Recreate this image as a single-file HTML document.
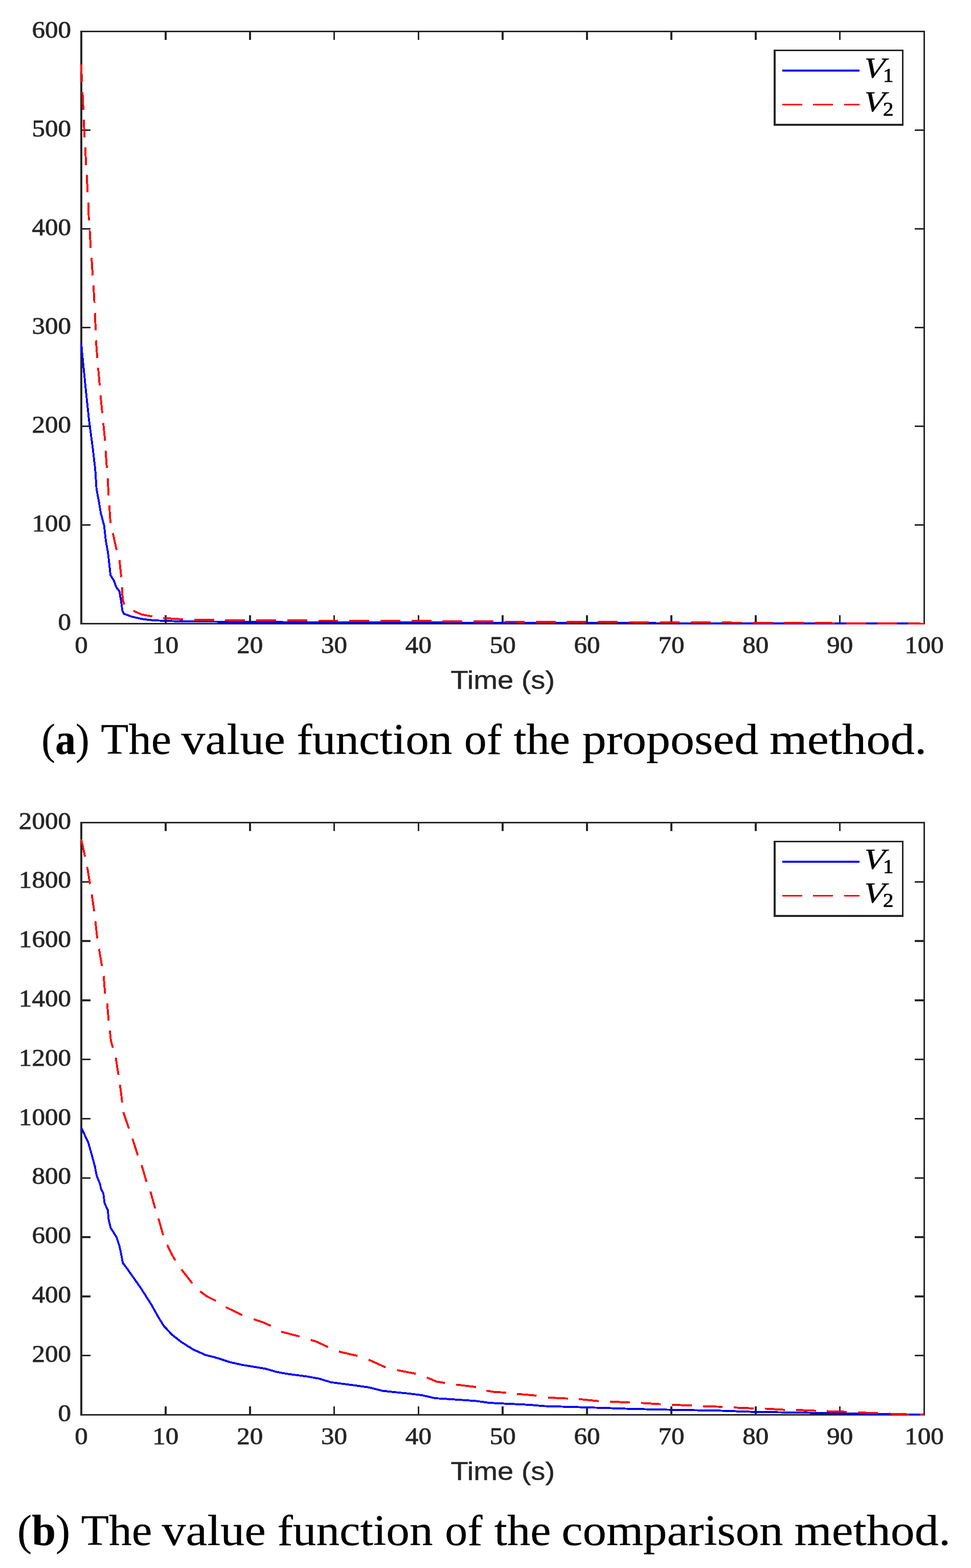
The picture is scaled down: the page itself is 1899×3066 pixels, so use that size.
<!DOCTYPE html>
<html lang="en">
<head>
<meta charset="utf-8">
<title>Value functions</title>
<style>
html,body{margin:0;padding:0;background:#fff;}
body{width:1899px;height:3066px;overflow:hidden;}
svg{display:block;}
text{white-space:pre;}
</style>
</head>
<body>
<svg width="1899" height="3066" viewBox="0 0 1899 3066">
<rect width="1899" height="3066" fill="#fff"/>
<g id="chart-a">
<g transform="scale(1.12,1)" fill="none" stroke="#262626" stroke-width="3.3" shape-rendering="crispEdges">
<path d="M289.15 1219.50V1203.00 M289.15 61.50V78.00 M436.34 1219.50V1203.00 M436.34 61.50V78.00 M583.53 1219.50V1203.00 M583.53 61.50V78.00 M730.71 1219.50V1203.00 M730.71 61.50V78.00 M877.90 1219.50V1203.00 M877.90 61.50V78.00 M1025.09 1219.50V1203.00 M1025.09 61.50V78.00 M1172.28 1219.50V1203.00 M1172.28 61.50V78.00 M1319.46 1219.50V1203.00 M1319.46 61.50V78.00 M1466.65 1219.50V1203.00 M1466.65 61.50V78.00 M141.96 1026.50H158.04 M1613.84 1026.50H1597.23 M141.96 833.50H158.04 M1613.84 833.50H1597.23 M141.96 640.50H158.04 M1613.84 640.50H1597.23 M141.96 447.50H158.04 M1613.84 447.50H1597.23 M141.96 254.50H158.04 M1613.84 254.50H1597.23"/>
<rect x="141.96" y="61.50" width="1471.87" height="1158.00"/>
</g>
<g fill="none" stroke-width="3.9" stroke-linejoin="round" shape-rendering="crispEdges">
<polyline stroke="#0000ff" points="159.00,672.20 161.50,700.00 167.50,759.50 173.80,819.00 181.70,878.60 186.30,918.30 188.70,956.00 193.30,980.00 197.10,1003.10 203.70,1027.90 207.00,1057.70 211.20,1080.90 213.70,1102.40 216.10,1124.70 222.80,1135.40 227.70,1148.70 233.50,1156.10 236.80,1175.10 239.30,1193.30 241.80,1199.90 257.50,1205.70 279.00,1210.60 298.80,1212.80 323.60,1214.10 348.40,1214.80 400.00,1215.30 500.00,1216.30 860.00,1217.40 1340.00,1218.60 1808.00,1219.50"/>
<path stroke="#ff0000" d="M159.00 125.80 L160.00 160.50 M161.30 180.40 L163.00 214.70 M163.70 234.10 L165.50 268.70 M166.70 288.10 L168.30 322.60 M169.60 342.00 L171.40 376.40 M172.60 396.00 L173.80 430.80 M175.40 450.00 L177.40 484.90 M179.00 503.80 L181.20 538.50 M182.70 558.10 L184.70 591.90 M185.70 611.90 L187.10 646.00 M187.70 665.50 L190.30 700.00 M191.90 718.80 L195.00 753.60 M196.60 773.00 L200.00 807.70 M202.00 827.00 L205.40 861.70 M206.50 881.00 L208.90 914.70 M210.50 935.10 L212.50 968.80 M213.70 988.30 L216.10 1022.70 M220.80 1042.50 L228.00 1075.60 M233.70 1095.20 L237.10 1128.50 M238.50 1148.20 L240.10 1173.40 L243.10 1182.00 M260.80 1194.40 L277.30 1201.60 L297.70 1205.40 M319.00 1208.50 L357.90 1211.00 M379.72 1211.79 L418.62 1212.41 M440.44 1212.75 L479.34 1212.99 M501.16 1213.06 L540.06 1213.19 M561.88 1213.26 L600.78 1213.38 M622.60 1213.45 L661.50 1213.58 M683.32 1213.65 L722.22 1213.77 M744.04 1213.84 L782.94 1213.97 M804.76 1214.04 L843.66 1214.42 M865.48 1214.77 L904.38 1215.11 M926.20 1215.20 L965.10 1215.37 M986.92 1215.46 L1025.82 1215.63 M1047.64 1215.73 L1086.54 1215.90 M1108.36 1215.99 L1147.26 1216.16 M1169.08 1216.26 L1207.98 1216.43 M1229.80 1216.52 L1268.70 1216.69 M1290.52 1216.78 L1329.42 1216.95 M1351.24 1217.06 L1390.14 1217.25 M1411.96 1217.36 L1450.86 1217.55 M1472.68 1217.66 L1511.58 1217.86 M1533.40 1217.97 L1572.30 1218.16 M1594.12 1218.27 L1633.02 1218.49 M1654.84 1218.62 L1693.74 1218.84 M1715.56 1218.97 L1754.46 1219.19 M1776.28 1219.32 L1808.00 1219.50"/>
</g>
<g transform="scale(1.12,1)" stroke="#262626" stroke-width="3.3" shape-rendering="crispEdges">
<rect x="1352.68" y="98.50" width="223.66" height="145.50" fill="#fff"/>
</g>
<g fill="none" stroke-width="3.9" shape-rendering="crispEdges">
<path stroke="#0000ff" d="M1529.8 138.00H1681"/>
<path stroke="#ff0000" stroke-dasharray="38.9 21.7" d="M1529.8 204.50H1681"/>
</g>
<g font-family="'Liberation Serif', serif" font-size="45.6" fill="#262626" stroke="#262626" stroke-width="0.8">
<text transform="translate(159.00,1276.70) scale(1.12,1)" text-anchor="middle">0</text>
<text transform="translate(323.85,1276.70) scale(1.12,1)" text-anchor="middle">10</text>
<text transform="translate(488.70,1276.70) scale(1.12,1)" text-anchor="middle">20</text>
<text transform="translate(653.55,1276.70) scale(1.12,1)" text-anchor="middle">30</text>
<text transform="translate(818.40,1276.70) scale(1.12,1)" text-anchor="middle">40</text>
<text transform="translate(983.25,1276.70) scale(1.12,1)" text-anchor="middle">50</text>
<text transform="translate(1148.10,1276.70) scale(1.12,1)" text-anchor="middle">60</text>
<text transform="translate(1312.95,1276.70) scale(1.12,1)" text-anchor="middle">70</text>
<text transform="translate(1477.80,1276.70) scale(1.12,1)" text-anchor="middle">80</text>
<text transform="translate(1642.65,1276.70) scale(1.12,1)" text-anchor="middle">90</text>
<text transform="translate(1807.50,1276.70) scale(1.12,1)" text-anchor="middle">100</text>
<text transform="translate(139.00,1231.60) scale(1.12,1)" text-anchor="end">0</text>
<text transform="translate(139.00,1038.60) scale(1.12,1)" text-anchor="end">100</text>
<text transform="translate(139.00,845.60) scale(1.12,1)" text-anchor="end">200</text>
<text transform="translate(139.00,652.60) scale(1.12,1)" text-anchor="end">300</text>
<text transform="translate(139.00,459.60) scale(1.12,1)" text-anchor="end">400</text>
<text transform="translate(139.00,266.60) scale(1.12,1)" text-anchor="end">500</text>
<text transform="translate(139.00,73.60) scale(1.12,1)" text-anchor="end">600</text>
</g>
<text transform="translate(983.30,1346.80) scale(1.122,1)" text-anchor="middle" font-family="'Liberation Sans', sans-serif" font-size="50" fill="#262626" stroke="#262626" stroke-width="0.5">Time (s)</text>
<g font-family="'Liberation Serif', serif" fill="#000" stroke="#000">
<text transform="translate(1688.10,152.20) skewX(-3.8) scale(1.19,1)" font-style="italic" font-size="57" stroke-width="0.45">V</text>
<text transform="translate(1727.00,160.00) scale(1.08,1)" font-size="37.8" stroke-width="0.9">1</text>
<text transform="translate(1688.10,218.40) skewX(-3.8) scale(1.19,1)" font-style="italic" font-size="57" stroke-width="0.45">V</text>
<text transform="translate(1727.00,226.20) scale(1.08,1)" font-size="37.8" stroke-width="0.9">2</text>
</g>
</g>
<g id="chart-b">
<g transform="scale(1.12,1)" fill="none" stroke="#262626" stroke-width="3.3" shape-rendering="crispEdges">
<path d="M289.15 2766.50V2750.00 M289.15 1608.50V1625.00 M436.34 2766.50V2750.00 M436.34 1608.50V1625.00 M583.53 2766.50V2750.00 M583.53 1608.50V1625.00 M730.71 2766.50V2750.00 M730.71 1608.50V1625.00 M877.90 2766.50V2750.00 M877.90 1608.50V1625.00 M1025.09 2766.50V2750.00 M1025.09 1608.50V1625.00 M1172.28 2766.50V2750.00 M1172.28 1608.50V1625.00 M1319.46 2766.50V2750.00 M1319.46 1608.50V1625.00 M1466.65 2766.50V2750.00 M1466.65 1608.50V1625.00 M141.96 2650.70H158.04 M1613.84 2650.70H1597.23 M141.96 2534.90H158.04 M1613.84 2534.90H1597.23 M141.96 2419.10H158.04 M1613.84 2419.10H1597.23 M141.96 2303.30H158.04 M1613.84 2303.30H1597.23 M141.96 2187.50H158.04 M1613.84 2187.50H1597.23 M141.96 2071.70H158.04 M1613.84 2071.70H1597.23 M141.96 1955.90H158.04 M1613.84 1955.90H1597.23 M141.96 1840.10H158.04 M1613.84 1840.10H1597.23 M141.96 1724.30H158.04 M1613.84 1724.30H1597.23"/>
<rect x="141.96" y="1608.50" width="1471.87" height="1158.00"/>
</g>
<g fill="none" stroke-width="3.9" stroke-linejoin="round" shape-rendering="crispEdges">
<polyline stroke="#0000ff" points="159.00,2204.80 172.80,2234.60 179.80,2259.40 185.70,2281.20 189.10,2299.00 195.60,2314.90 197.60,2324.80 202.00,2332.80 204.60,2352.60 210.90,2366.50 212.50,2384.40 216.50,2401.20 227.40,2418.10 233.30,2435.00 237.30,2453.80 240.10,2469.10 249.80,2482.30 275.00,2518.00 296.10,2551.10 309.40,2574.90 319.90,2592.10 335.80,2609.30 354.30,2623.90 378.10,2638.90 402.00,2649.50 425.80,2655.60 449.60,2663.50 473.40,2668.80 494.60,2672.30 518.40,2676.20 542.20,2682.90 563.30,2686.60 600.40,2691.50 623.80,2695.70 647.60,2702.90 671.40,2706.00 697.90,2709.50 721.70,2712.90 748.10,2719.50 772.00,2722.20 798.40,2724.80 824.90,2728.00 851.30,2734.10 877.80,2735.70 904.20,2737.50 930.70,2739.40 957.10,2743.10 983.60,2744.40 1035.60,2746.90 1063.30,2749.40 1118.90,2751.10 1174.40,2752.80 1230.00,2754.70 1285.60,2756.10 1341.10,2757.20 1400.00,2758.10 1469.40,2760.60 1566.70,2762.20 1650.00,2763.90 1733.30,2765.30 1808.00,2766.40"/>
<path stroke="#ff0000" d="M158.90 1641.40 L166.30 1675.20 M170.40 1694.80 L176.20 1728.50 M179.40 1748.60 L184.30 1781.70 M186.50 1801.20 L190.30 1835.30 M193.70 1855.50 L199.40 1888.80 M202.70 1908.50 L205.40 1942.70 M209.50 1961.90 L212.50 1995.60 M214.90 2015.10 L216.90 2034.90 L220.80 2048.80 M226.40 2068.30 L231.70 2101.80 M234.50 2121.20 L236.70 2136.10 L238.90 2155.60 M241.30 2174.80 L247.00 2192.00 L252.20 2206.80 M259.10 2226.60 L269.60 2259.40 M277.00 2278.20 L286.50 2311.00 M294.20 2329.80 L303.40 2362.90 M309.90 2382.40 L319.00 2415.10 M327.00 2434.00 L334.00 2449.00 L342.80 2464.50 M354.90 2482.30 L376.00 2509.30 M391.40 2525.20 L404.60 2534.70 L422.30 2543.70 M441.60 2555.90 L473.90 2571.50 M495.90 2579.40 L515.70 2586.00 L529.50 2592.60 M550.10 2604.00 L585.80 2613.30 M608.00 2620.00 L621.20 2624.30 L641.50 2634.10 M662.70 2642.80 L699.20 2651.30 M720.90 2658.70 L732.30 2663.70 L754.20 2673.80 M776.70 2679.00 L813.20 2686.20 M834.90 2693.60 L854.00 2701.50 L870.40 2704.20 M892.30 2707.40 L930.70 2712.10 M951.30 2719.30 L967.70 2721.90 L989.60 2723.00 M1011.40 2725.60 L1049.40 2728.90 M1072.20 2732.80 L1110.60 2734.70 M1132.20 2735.80 L1170.80 2739.70 M1193.00 2740.60 L1231.70 2742.50 M1253.60 2743.30 L1291.70 2745.60 M1314.20 2746.90 L1352.80 2748.30 M1375.00 2749.70 L1413.30 2750.80 M1435.30 2752.20 L1473.60 2753.90 M1496.10 2754.40 L1534.70 2756.70 M1557.20 2756.90 L1595.80 2758.60 M1617.20 2759.40 L1655.60 2760.60 M1678.30 2761.90 L1716.70 2763.30 M1739.40 2764.40 L1777.80 2765.60 M1799.20 2766.40 L1808.00 2766.50"/>
</g>
<g transform="scale(1.12,1)" stroke="#262626" stroke-width="3.3" shape-rendering="crispEdges">
<rect x="1352.68" y="1645.50" width="223.66" height="145.50" fill="#fff"/>
</g>
<g fill="none" stroke-width="3.9" shape-rendering="crispEdges">
<path stroke="#0000ff" d="M1529.8 1685.00H1681"/>
<path stroke="#ff0000" stroke-dasharray="38.9 21.7" d="M1529.8 1751.50H1681"/>
</g>
<g font-family="'Liberation Serif', serif" font-size="45.6" fill="#262626" stroke="#262626" stroke-width="0.8">
<text transform="translate(159.00,2823.70) scale(1.12,1)" text-anchor="middle">0</text>
<text transform="translate(323.85,2823.70) scale(1.12,1)" text-anchor="middle">10</text>
<text transform="translate(488.70,2823.70) scale(1.12,1)" text-anchor="middle">20</text>
<text transform="translate(653.55,2823.70) scale(1.12,1)" text-anchor="middle">30</text>
<text transform="translate(818.40,2823.70) scale(1.12,1)" text-anchor="middle">40</text>
<text transform="translate(983.25,2823.70) scale(1.12,1)" text-anchor="middle">50</text>
<text transform="translate(1148.10,2823.70) scale(1.12,1)" text-anchor="middle">60</text>
<text transform="translate(1312.95,2823.70) scale(1.12,1)" text-anchor="middle">70</text>
<text transform="translate(1477.80,2823.70) scale(1.12,1)" text-anchor="middle">80</text>
<text transform="translate(1642.65,2823.70) scale(1.12,1)" text-anchor="middle">90</text>
<text transform="translate(1807.50,2823.70) scale(1.12,1)" text-anchor="middle">100</text>
<text transform="translate(139.00,2778.60) scale(1.12,1)" text-anchor="end">0</text>
<text transform="translate(139.00,2662.80) scale(1.12,1)" text-anchor="end">200</text>
<text transform="translate(139.00,2547.00) scale(1.12,1)" text-anchor="end">400</text>
<text transform="translate(139.00,2431.20) scale(1.12,1)" text-anchor="end">600</text>
<text transform="translate(139.00,2315.40) scale(1.12,1)" text-anchor="end">800</text>
<text transform="translate(139.00,2199.60) scale(1.12,1)" text-anchor="end">1000</text>
<text transform="translate(139.00,2083.80) scale(1.12,1)" text-anchor="end">1200</text>
<text transform="translate(139.00,1968.00) scale(1.12,1)" text-anchor="end">1400</text>
<text transform="translate(139.00,1852.20) scale(1.12,1)" text-anchor="end">1600</text>
<text transform="translate(139.00,1736.40) scale(1.12,1)" text-anchor="end">1800</text>
<text transform="translate(139.00,1620.60) scale(1.12,1)" text-anchor="end">2000</text>
</g>
<text transform="translate(983.30,2893.80) scale(1.122,1)" text-anchor="middle" font-family="'Liberation Sans', sans-serif" font-size="50" fill="#262626" stroke="#262626" stroke-width="0.5">Time (s)</text>
<g font-family="'Liberation Serif', serif" fill="#000" stroke="#000">
<text transform="translate(1688.10,1699.20) skewX(-3.8) scale(1.19,1)" font-style="italic" font-size="57" stroke-width="0.45">V</text>
<text transform="translate(1727.00,1707.00) scale(1.08,1)" font-size="37.8" stroke-width="0.9">1</text>
<text transform="translate(1688.10,1765.40) skewX(-3.8) scale(1.19,1)" font-style="italic" font-size="57" stroke-width="0.45">V</text>
<text transform="translate(1727.00,1773.20) scale(1.08,1)" font-size="37.8" stroke-width="0.9">2</text>
</g>
</g>
<text id="cap-a" y="1474.2" font-family="'Liberation Serif', serif" font-size="84" fill="#000" stroke="#000" stroke-width="0.3"><tspan x="81.19" textLength="93.61" lengthAdjust="spacingAndGlyphs">(<tspan font-weight="bold">a</tspan>)</tspan> <tspan x="197.31" textLength="137.83" lengthAdjust="spacingAndGlyphs">The</tspan> <tspan x="354.50" textLength="203.46" lengthAdjust="spacingAndGlyphs">value</tspan> <tspan x="580.27" textLength="304.13" lengthAdjust="spacingAndGlyphs">function</tspan> <tspan x="907.85" textLength="73.30" lengthAdjust="spacingAndGlyphs">of</tspan> <tspan x="1004.40" textLength="110.59" lengthAdjust="spacingAndGlyphs">the</tspan> <tspan x="1138.83" textLength="344.37" lengthAdjust="spacingAndGlyphs">proposed</tspan> <tspan x="1505.12" textLength="307.39" lengthAdjust="spacingAndGlyphs">method.</tspan></text>
<text id="cap-b" y="3021.3" font-family="'Liberation Serif', serif" font-size="84" fill="#000" stroke="#000" stroke-width="0.3"><tspan x="34.06" textLength="103.08" lengthAdjust="spacingAndGlyphs">(<tspan font-weight="bold">b</tspan>)</tspan> <tspan x="158.51" textLength="138.76" lengthAdjust="spacingAndGlyphs">The</tspan> <tspan x="316.60" textLength="203.46" lengthAdjust="spacingAndGlyphs">value</tspan> <tspan x="542.47" textLength="304.13" lengthAdjust="spacingAndGlyphs">function</tspan> <tspan x="870.35" textLength="73.30" lengthAdjust="spacingAndGlyphs">of</tspan> <tspan x="966.80" textLength="110.59" lengthAdjust="spacingAndGlyphs">the</tspan> <tspan x="1098.30" textLength="433.10" lengthAdjust="spacingAndGlyphs">comparison</tspan> <tspan x="1553.73" textLength="305.44" lengthAdjust="spacingAndGlyphs">method.</tspan></text>
</svg>
</body>
</html>
